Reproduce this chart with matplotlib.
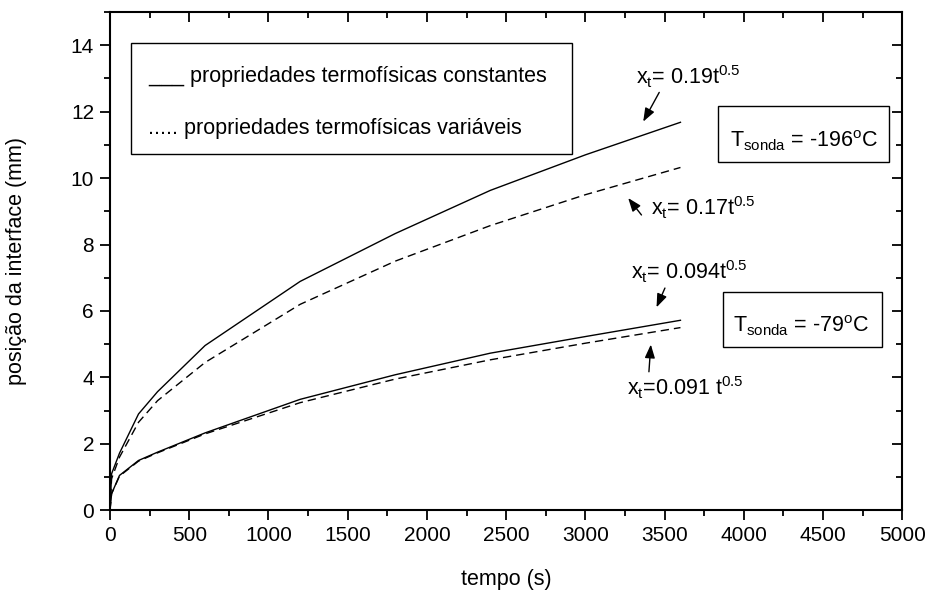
import matplotlib
matplotlib.use("Agg")
import matplotlib.pyplot as plt
from matplotlib.patches import Rectangle
from matplotlib.ticker import MultipleLocator

plt.rcParams['font.family'] = ['Liberation Sans', 'DejaVu Sans']
plt.rcParams['mathtext.fontset'] = 'custom'
plt.rcParams['mathtext.rm'] = 'Liberation Sans'
plt.rcParams['mathtext.it'] = 'Liberation Sans:italic'
plt.rcParams['mathtext.default'] = 'regular'
plt.rcParams['lines.scale_dashes'] = False

# ---- data ----
tempo = [0, 10, 60, 180, 300, 600, 1200, 1800, 2400, 3000, 3600]
x196_const = [0, 1.10, 1.72, 2.90, 3.57, 4.96, 6.89, 8.33, 9.63, 10.70, 11.68]
x196_var = [0, 0.95, 1.60, 2.65, 3.30, 4.45, 6.20, 7.50, 8.57, 9.50, 10.32]
x79_const = [0, 0.50, 1.05, 1.50, 1.75, 2.33, 3.34, 4.08, 4.73, 5.23, 5.72]
x79_var = [0, 0.50, 1.03, 1.48, 1.73, 2.30, 3.24, 3.95, 4.53, 5.03, 5.50]

legend_labels = ["___ propriedades termofísicas constantes",
                 "..... propriedades termofísicas variáveis"]
box_labels = [r"T$_{sonda}$ = -196$^{o}$C", r"T$_{sonda}$ = -79$^{o}$C"]
ann_labels = [r"x$_{t}$= 0.19t$^{0.5}$", r"x$_{t}$= 0.17t$^{0.5}$",
              r"x$_{t}$= 0.094t$^{0.5}$", r"x$_{t}$=0.091 t$^{0.5}$"]

FS = 15.5
fig = plt.figure(figsize=(9.27, 5.92), dpi=100)
ax = fig.add_axes([110/927, 1-510.3/592, 792.3/927, 498.3/592])

lw = 1.0
dash = (6, 3.6)
ax.plot(tempo, x196_const, color='k', lw=lw)
ax.plot(tempo, x196_var, color='k', lw=lw, dashes=dash)
ax.plot(tempo, x79_const, color='k', lw=lw)
ax.plot(tempo, x79_var, color='k', lw=lw, dashes=dash)

ax.set_xlim(0, 5000)
ax.set_ylim(0, 15)
ax.xaxis.set_major_locator(MultipleLocator(500))
ax.xaxis.set_minor_locator(MultipleLocator(250))
ax.yaxis.set_major_locator(MultipleLocator(2))
ax.yaxis.set_minor_locator(MultipleLocator(1))
for s in ax.spines.values():
    s.set_linewidth(1.5)
ax.tick_params(which='both', labelsize=15, width=1.3)
ax.tick_params(which='major', length=7.5)
ax.tick_params(which='minor', length=4.2)
ax.tick_params(axis='x', which='both', top=True, direction='out', pad=4)
ax.tick_params(axis='y', which='both', right=True, direction='out', pad=4)
# top and right ticks point inward
for t in ax.xaxis.get_major_ticks() + ax.xaxis.get_minor_ticks():
    t.tick2line.set_marker(3)
for t in ax.yaxis.get_major_ticks() + ax.yaxis.get_minor_ticks():
    t.tick2line.set_marker(0)

fig.text(506/927, 1-580/592, "tempo (s)", ha='center', va='center', fontsize=FS)
fig.text(17/927, 1-261/592, "posição da interface (mm)", ha='center', va='center',
         rotation=90, fontsize=FS)

# legend box
ax.add_patch(Rectangle((0.0265, 0.715), 0.5565, 0.223, transform=ax.transAxes,
                       fill=False, lw=1.0, ec='k'))
ax.text(0.048, 0.871, legend_labels[0], transform=ax.transAxes, ha='left',
        va='center', fontsize=FS)
ax.text(0.048, 0.767, legend_labels[1], transform=ax.transAxes, ha='left',
        va='center', fontsize=FS)

# temperature boxes
ax.add_patch(Rectangle((3838, 10.48), 1079, 1.68, fill=False, lw=1.0, ec='k'))
ax.text(4379, 10.93, box_labels[0], ha='center', va='baseline', fontsize=FS)
ax.add_patch(Rectangle((3869, 4.91), 1003, 1.67, fill=False, lw=1.0, ec='k'))
ax.text(4364, 5.36, box_labels[1], ha='center', va='baseline', fontsize=FS)

# annotations
aprops = dict(arrowstyle='-|>,head_length=0.45,head_width=0.17', color='k',
              lw=1.0, mutation_scale=18, shrinkA=0, shrinkB=0)
ax.text(3322, 12.81, ann_labels[0], ha='left', va='baseline', fontsize=FS)
ax.annotate("", xy=(3365, 11.70), xytext=(3466, 12.58), arrowprops=aprops)
ax.text(3417, 8.89, ann_labels[1], ha='left', va='baseline', fontsize=FS)
ax.annotate("", xy=(3270, 9.40), xytext=(3354, 8.89), arrowprops=aprops)
ax.text(3291, 6.94, ann_labels[2], ha='left', va='baseline', fontsize=FS)
ax.annotate("", xy=(3449, 6.11), xytext=(3502, 6.69), arrowprops=aprops)
ax.text(3260, 3.47, ann_labels[3], ha='left', va='baseline', fontsize=FS)
ax.annotate("", xy=(3413, 4.99), xytext=(3401, 4.17), arrowprops=aprops)

fig.savefig("out.png", dpi=100)
